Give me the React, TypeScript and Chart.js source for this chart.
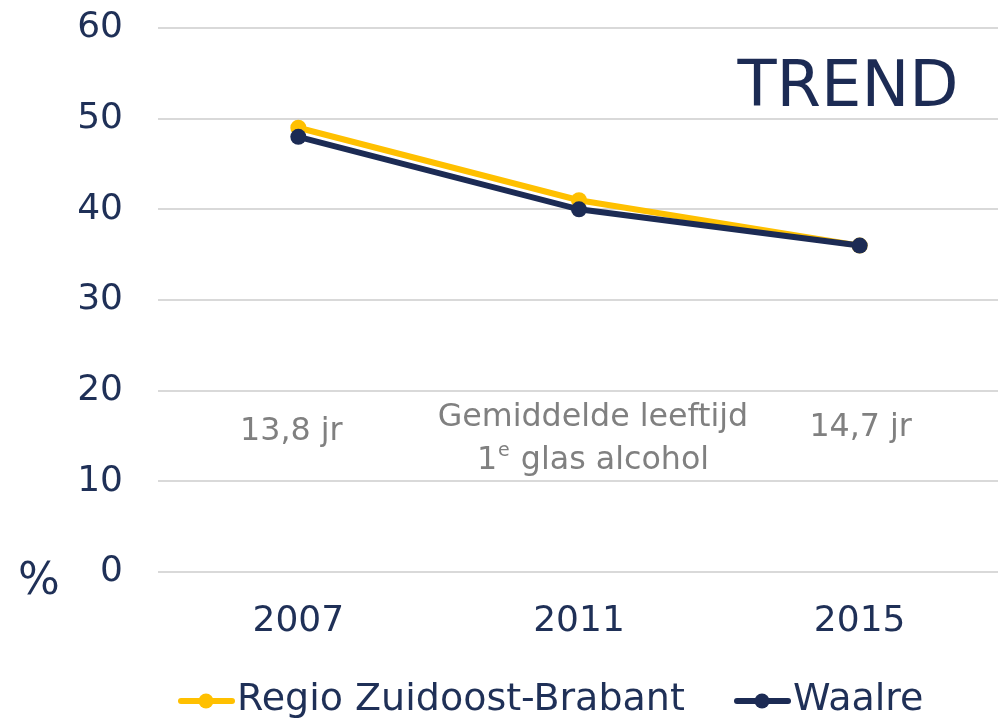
import React, { useEffect, useRef } from "react";
import { Chart, registerables } from "chart.js";

Chart.register(...registerables);

const categories = ["2007", "2011", "2015"];
const regioValues = [49, 41, 36];
const waalreValues = [48, 40, 36];
const seriesNames = ["Regio Zuidoost-Brabant", "Waalre"];
const yTicks = [0, 10, 20, 30, 40, 50, 60];
const ageLabels = ["13,8 jr", "14,7 jr"];
const centerNoteLine1 = "Gemiddelde leeftijd";
const centerNoteLine2 = ["1", "e", " glas alcohol"];
const titleText = "TREND";
const unitText = "%";

const YELLOW = "#FFC000";
const NAVY = "#1c2b54";
const TEXT = "#1f3057";
const GRAY = "#808080";
const FONT = "'DejaVu Sans', Verdana, sans-serif";

export default function App() {
  const ref = useRef<HTMLCanvasElement | null>(null);

  useEffect(() => {
    if (!ref.current) return;
    const overlay = {
      id: "overlay",
      afterDraw(chart: any) {
        const ctx = chart.ctx;
        const xs = chart.scales.x;
        ctx.save();
        // title
        ctx.fillStyle = NAVY;
        ctx.font = `64px ${FONT}`;
        ctx.textAlign = "center";
        ctx.textBaseline = "middle";
        ctx.fillText(titleText, 848, 89);
        // unit
        ctx.font = `44px ${FONT}`;
        ctx.fillStyle = TEXT;
        ctx.fillText(unitText, 39, 583);
        // age annotations
        ctx.fillStyle = GRAY;
        const bigSize = 31.7;
        ctx.font = `${bigSize}px ${FONT}`;
        ctx.fillText(ageLabels[0], xs.getPixelForValue(0) - 7, 432);
        ctx.fillText(ageLabels[1], xs.getPixelForValue(2) + 1, 428);
        const cx = xs.getPixelForValue(1) + 14;
        ctx.fillText(centerNoteLine1, cx, 418);
        // second line with superscript
        const big = `${bigSize}px ${FONT}`;
        const small = `19px ${FONT}`;
        ctx.font = big;
        const w1 = ctx.measureText(centerNoteLine2[0]).width;
        const w3 = ctx.measureText(centerNoteLine2[2]).width;
        ctx.font = small;
        const w2 = ctx.measureText(centerNoteLine2[1]).width + 2;
        const total = w1 + w2 + w3;
        const x0 = cx - total / 2;
        ctx.textAlign = "left";
        ctx.font = big;
        ctx.fillText(centerNoteLine2[0], x0, 461);
        ctx.font = small;
        ctx.fillText(centerNoteLine2[1], x0 + w1 + 1, 451);
        ctx.font = big;
        ctx.fillText(centerNoteLine2[2], x0 + w1 + w2, 461);
        // legend
        const items = [
          { color: YELLOW, name: seriesNames[0], x: 178 },
          { color: NAVY, name: seriesNames[1], x: 734 },
        ];
        ctx.font = `38px ${FONT}`;
        for (const it of items) {
          ctx.strokeStyle = it.color;
          ctx.fillStyle = it.color;
          ctx.lineWidth = 6;
          ctx.lineCap = "round";
          ctx.beginPath();
          ctx.moveTo(it.x + 3, 701);
          ctx.lineTo(it.x + 54, 701);
          ctx.stroke();
          ctx.beginPath();
          ctx.arc(it.x + 28, 701, 7.5, 0, Math.PI * 2);
          ctx.fill();
          ctx.fillStyle = TEXT;
          ctx.textBaseline = "middle";
          ctx.fillText(it.name, it.x + 59, 700);
        }
        ctx.restore();
      },
    };

    const chart = new Chart(ref.current, {
      type: "line",
      data: {
        labels: categories,
        datasets: [
          {
            label: seriesNames[0],
            data: regioValues,
            borderColor: YELLOW,
            backgroundColor: YELLOW,
            borderWidth: 6,
            pointRadius: 8,
            pointBorderWidth: 0,
            tension: 0,
            order: 1,
          },
          {
            label: seriesNames[1],
            data: waalreValues,
            borderColor: NAVY,
            backgroundColor: NAVY,
            borderWidth: 6,
            pointRadius: 8,
            pointBorderWidth: 0,
            tension: 0,
            order: 0,
          },
        ],
      },
      options: {
        responsive: false,
        animation: false,
        layout: { padding: { top: 28, bottom: 0, left: 0, right: 0 } },
        plugins: {
          legend: { display: false },
          tooltip: { enabled: false },
        },
        scales: {
          x: {
            offset: true,
            grid: { display: false, drawTicks: false },
            border: { display: false },
            ticks: {
              color: TEXT,
              font: { family: FONT, size: 36 },
              padding: 28,
            },
            afterFit(axis: any) {
              axis.height = 148;
            },
          },
          y: {
            min: 0,
            max: 60,
            afterBuildTicks(axis: any) {
              axis.ticks = yTicks.map((v) => ({ value: v }));
            },
            grid: { color: "#d9d9d9", lineWidth: 2, drawTicks: false },
            border: { display: false },
            ticks: {
              color: TEXT,
              font: { family: FONT, size: 36 },
              padding: 35,
            },
            afterFit(axis: any) {
              axis.width = 158;
              axis.paddingTop = 0;
              axis.paddingBottom = 0;
            },
          },
        },
      },
      plugins: [overlay],
    });
    return () => chart.destroy();
  }, []);

  return (
    <div
      style={{
        position: "absolute",
        left: 0,
        top: 0,
        width: 998,
        height: 720,
        overflow: "hidden",
        background: "#fff",
      }}
    >
      <canvas ref={ref} width={1008} height={720} style={{ display: "block" }} />
    </div>
  );
}
